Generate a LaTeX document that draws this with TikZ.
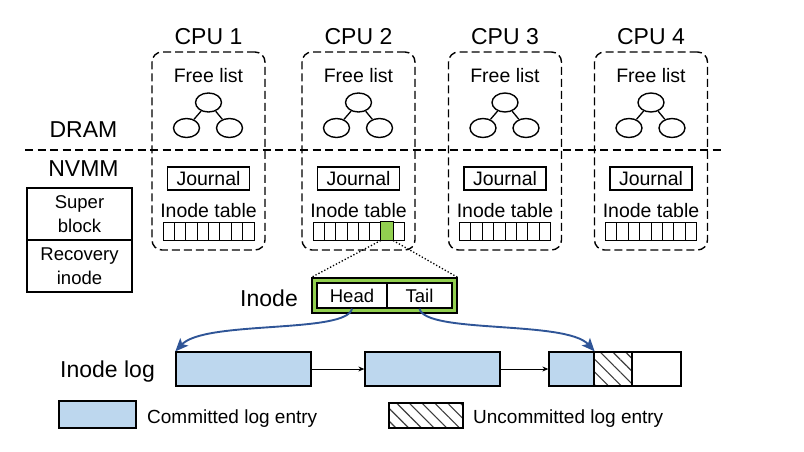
\documentclass[tikz,border=0pt]{standalone}
\usepackage{fontspec}
\setmainfont{Liberation Sans}
\usetikzlibrary{arrows.meta,patterns.meta,calc,shapes.geometric}
\definecolor{inodegreen}{RGB}{146,208,80}
\definecolor{logblue}{RGB}{189,215,238}
\definecolor{arrowblue}{RGB}{47,85,151}
\definecolor{hatchgray}{RGB}{60,60,60}
\tikzset{
  bigtxt/.style={font=\fontsize{23}{27}\selectfont, inner sep=0pt},
  midtxt/.style={font=\fontsize{19.5}{23}\selectfont, inner sep=0pt},
  smalltxt/.style={font=\fontsize{19}{22}\selectfont, inner sep=0pt},
  cpubox/.style={draw, dash pattern=on 8pt off 4pt, rounded corners=10pt, line width=1.4pt,
    minimum width=113pt, minimum height=198pt, inner sep=0pt},
  sepline/.style={dash pattern=on 8pt off 4.5pt, line width=1.4pt},
  treenode/.style={draw, ellipse, line width=1.4pt, minimum width=26pt, minimum height=19pt, inner sep=0pt},
  journalbox/.style={draw, line width=1.3pt, minimum width=82pt, minimum height=23pt, inner sep=0pt,
    font=\fontsize{19.5}{23}\selectfont},
  cellbox/.style={draw, line width=1pt, minimum width=11.375pt, minimum height=18pt, inner sep=0pt},
  plainbox/.style={draw, line width=1.3pt, inner sep=0pt, align=center, font=\fontsize{18.5}{24}\selectfont},
  logbox/.style={draw, line width=1.3pt, inner sep=0pt, minimum height=34pt},
  ptrarrow/.style={arrowblue, line width=1.9pt, -{Stealth[length=13pt,width=11pt,inset=3pt]}},
  nextarrow/.style={line width=1pt, -{Stealth[length=6pt,width=5pt]}},
  hatch/.style={pattern={Lines[angle=-45,distance=9pt,line width=1.1pt]}, pattern color=hatchgray},
}
\begin{document}
\begin{tikzpicture}[x=1pt,y=-1pt]
\useasboundingbox (0,0) rectangle (804,452);
% separator
\coordinate (sepL) at (25,150);
\coordinate (sepR) at (724,150);
\draw[sepline] (sepL) -- (sepR);
\node[bigtxt, anchor=base] (dram) at (83.5,138) {DRAM};
\node[bigtxt, anchor=base] (nvmm) at (83.5,176) {NVMM};
% left boxes
\node[plainbox, minimum width=105pt, minimum height=52pt] (sb) at (79.5,214) {Super\\block};
\node[plainbox, minimum width=105pt, minimum height=52pt] (rb) at (79.5,266) {Recovery\\inode};
% CPUs
\foreach \cx [count=\i] in {208.5,358.5,505,651}{
  \node[cpubox] (cpu\i) at (\cx,151) {};
  \node[bigtxt, anchor=base] (cpul\i) at (\cx,45) {CPU \i};
  \node[midtxt, anchor=base] (fl\i) at (\cx,83) {Free list};
  \node[treenode] (tt\i) at (\cx,102.5) {};
  \node[treenode] (tl\i) at ($(\cx,128)+(-22,0)$) {};
  \node[treenode] (tr\i) at ($(\cx,128)+(21,0)$) {};
  \draw[line width=1.3pt] (tt\i) -- (tl\i);
  \draw[line width=1.3pt] (tt\i) -- (tr\i);
  \node[journalbox] (jr\i) at (\cx,178.5) {Journal};
  \node[midtxt, anchor=base] (it\i) at (\cx,217) {Inode table};
  \foreach \k in {0,...,7}{
    \node[cellbox] (c\i-\k) at ($(\cx,231)+(-45.5+11.375*\k+5.6875,0)$) {};
  }
}
\draw[line width=1pt, fill=inodegreen] (c2-6.south west) rectangle (c2-6.north east);
% inode
\node[draw, line width=1.3pt, fill=inodegreen, minimum width=145pt, minimum height=35pt, inner sep=0pt] (inode) at (384.5,295.5) {};
\node[draw, line width=1.3pt, fill=white, minimum width=70pt, minimum height=25pt, inner sep=0pt, font=\fontsize{18.5}{22}\selectfont] (head) at (352,295.5) {Head};
\node[draw, line width=1.3pt, fill=white, minimum width=65pt, minimum height=25pt, inner sep=0pt, font=\fontsize{18.5}{22}\selectfont] (tail) at (419.5,295.5) {Tail};
\node[bigtxt, anchor=base east] (inodel) at (298,306) {Inode};
\draw[dotted, line width=1.3pt] (c2-6.south west) -- (inode.north west);
\draw[dotted, line width=1.3pt] (c2-6.south east) -- (inode.north east);
% log
\node[bigtxt, anchor=base west] (logl) at (60,377) {Inode log};
\node[logbox, fill=logblue, minimum width=135pt] (b1) at (243.5,369) {};
\node[logbox, fill=logblue, minimum width=135pt] (b2) at (432.5,369) {};
\node[logbox, fill=logblue, minimum width=45pt] (b3a) at (571.5,369) {};
\node[logbox, hatch, minimum width=38pt] (b3b) at (613,369) {};
\node[logbox, minimum width=49pt] (b3c) at (656.5,369) {};
\draw[nextarrow] (b1.east) -- (b2.west);
\draw[nextarrow] (b2.east) -- (b3a.west);
\draw[ptrarrow] (head.south) .. controls (347,334) and (205,320) .. (b1.north west);
\draw[ptrarrow] (tail.south) .. controls (425,334) and (566,320) .. (b3a.north east);
% legend
\node[draw, line width=1.3pt, fill=logblue, minimum width=77pt, minimum height=27pt, inner sep=0pt] (lg1) at (97.5,414.5) {};
\node[smalltxt, anchor=base west] (lg1t) at (147,423) {Committed log entry};
\node[draw, line width=1.3pt, hatch, minimum width=74pt, minimum height=25pt, inner sep=0pt] (lg2) at (426,415.5) {};
\node[smalltxt, anchor=base west] (lg2t) at (473,423) {Uncommitted log entry};
\end{tikzpicture}
\end{document}
